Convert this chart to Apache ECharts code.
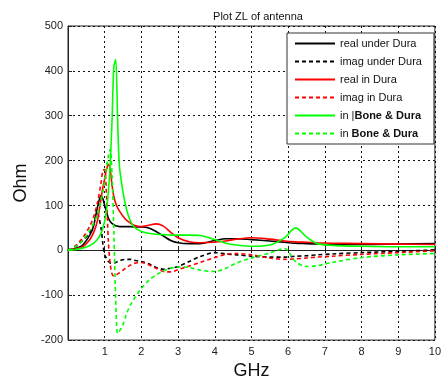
<!DOCTYPE html>
<html>
<head>
<meta charset="utf-8">
<script src="https://cdn.jsdelivr.net/npm/echarts@6/dist/echarts.min.js"></script>
<style>
  html, body { margin: 0; padding: 0; background: #fff; }
  #chart { width: 444px; height: 385px; }
</style>
</head>
<body>
<div id="chart"></div>
<script>
// frequency grid (GHz), shared by every curve
const freq = [0, 0.2, 0.4, 0.6, 0.7, 0.8, 0.9, 0.95, 1.0, 1.05, 1.1, 1.15, 1.2, 1.25, 1.3, 1.35, 1.4, 1.5, 1.6, 1.7,
  1.8, 2.0, 2.2, 2.4, 2.6, 2.8, 3.0, 3.3, 3.6, 4.0, 4.3, 4.6, 5.0, 5.5, 5.9, 6.2, 6.5, 6.8, 7.2, 8, 9, 10]

const realUnderDura = [0, 4, 12, 35, 55, 95, 122, 115, 100, 85, 72, 64, 60, 57, 55, 54, 53, 53, 53, 53,
  52, 52, 50, 42, 32, 22, 17, 15, 15, 22, 26, 26, 24, 21, 18, 16, 15, 14, 13, 13, 14, 15]
const imagUnderDura = [0, 8, 22, 40, 60, 82, 50, 15, -10, -18, -25, -28, -29, -28, -27, -25, -23, -21, -20, -20,
  -22, -25, -30, -38, -42, -40, -36, -25, -14, -5, -8, -10, -13, -15, -15, -13, -12, -10, -8, -5, -2, 1]
const realInDura = [0, 3, 8, 25, 40, 65, 115, 140, 160, 180, 192, 180, 145, 120, 105, 95, 88, 76, 67, 61,
  56, 53, 56, 59, 54, 40, 28, 19, 17, 18, 21, 25, 28, 25, 21, 19, 18, 17, 16, 15, 14, 13]
const imagInDura = [0, 10, 28, 55, 75, 105, 150, 178, 180, 120, 20, -30, -52, -57, -55, -53, -50, -44, -38, -33,
  -29, -27, -32, -40, -47, -48, -43, -35, -27, -16, -9, -7, -10, -17, -20, -19, -17, -15, -13, -9, -5, -1]
const realInBone = [0, 2, 5, 11, 16, 24, 38, 50, 65, 90, 130, 190, 290, 410, 425, 300, 190, 130, 90, 66,
  52, 42, 38, 36, 35, 34, 34, 34, 33, 24, 16, 12, 9, 12, 28, 50, 30, 15, 11, 9, 8, 8]
const imagInBone = [0, 8, 22, 45, 60, 80, 110, 130, 155, 185, 210, 225, 170, 40, -110, -185, -180, -165, -140, -122,
  -108, -85, -67, -55, -46, -40, -37, -38, -44, -47, -40, -28, -17, -6, 4, -25, -36, -34, -27, -16, -10, -7]

const seriesNames = ['real under Dura', 'imag under Dura', 'real in Dura', 'imag in Dura', 'in |Bone & Dura', 'in Bone & Dura']
const legendLabels = ['real under Dura', 'imag under Dura', 'real in Dura', 'imag in Dura', 'in |{b|Bone & Dura}', 'in {b|Bone & Dura}']
const seriesValues = [realUnderDura, imagUnderDura, realInDura, imagInDura, realInBone, imagInBone]
const seriesColors = ['#000000', '#000000', '#ff0000', '#ff0000', '#00ff00', '#00ff00']
const seriesDashed = [false, true, false, true, false, true]

const xTicks = [0, 10, 1]   // min, max, interval
const yTicks = [-200, 500, 100]

const font = 'Liberation Sans, Arial, sans-serif'

const chart = echarts.init(document.getElementById('chart'), undefined, { renderer: 'canvas' })

chart.setOption({
  backgroundColor: '#fff',
  animation: false,
  textStyle: { fontFamily: font },
  title: {
    text: 'Plot ZL of antenna',
    left: 253,
    textAlign: 'center',
    top: 6,
    textStyle: { fontSize: 11, fontWeight: 'normal', color: '#111', fontFamily: font },
  },
  grid: {
    left: 68,
    right: 6,
    top: 26,
    bottom: 41,
    show: true,
    borderColor: '#222',
    borderWidth: 1,
  },
  legend: {
    orient: 'vertical',
    left: 287,
    top: 33,
    backgroundColor: '#fff',
    borderColor: '#333',
    borderWidth: 1,
    borderRadius: 0,
    padding: [5, 12, 5, 7],
    itemWidth: 40,
    itemHeight: 10,
    itemGap: 7,
    itemStyle: { opacity: 0 },
    data: seriesNames,
    formatter: (name) => legendLabels[seriesNames.indexOf(name)],
    textStyle: {
      fontSize: 11,
      color: '#111',
      fontFamily: font,
      rich: { b: { fontWeight: 'bold', fontSize: 11, fontFamily: font, color: '#111' } },
    },
  },
  xAxis: {
    type: 'value',
    min: xTicks[0],
    max: xTicks[1],
    interval: xTicks[2],
    name: 'GHz',
    nameLocation: 'middle',
    nameGap: 19,
    nameTextStyle: { fontSize: 18, color: '#111', fontFamily: font },
    axisLine: { lineStyle: { color: '#222', width: 1 } },
    axisTick: { inside: true, length: 4, lineStyle: { color: '#222' } },
    axisLabel: {
      color: '#222',
      fontSize: 11,
      margin: 6,
      formatter: (v) => (v === 0 ? '' : String(v)),
    },
    splitLine: { show: true, lineStyle: { color: '#111', type: [2, 3], width: 1 } },
  },
  yAxis: {
    type: 'value',
    min: yTicks[0],
    max: yTicks[1],
    interval: yTicks[2],
    name: 'Ohm',
    nameLocation: 'middle',
    nameGap: 34,
    nameTextStyle: { fontSize: 18, color: '#111', fontFamily: font },
    axisLine: { show: true, lineStyle: { color: '#222', width: 1 } },
    axisTick: { show: true, inside: true, length: 4, lineStyle: { color: '#222' } },
    axisLabel: { color: '#222', fontSize: 11, margin: 5 },
    splitLine: { show: true, lineStyle: { color: '#111', type: [2, 3], width: 1 } },
  },
  series: seriesNames.map((name, i) => ({
    name,
    type: 'line',
    data: freq.map((f, j) => [f, seriesValues[i][j]]),
    showSymbol: false,
    symbol: 'none',
    smooth: 0.3,
    color: seriesColors[i],
    lineStyle: { color: seriesColors[i], width: 1.6, type: seriesDashed[i] ? [4, 3] : 'solid' },
    z: 3 + i,
  })),
})
</script>
</body>
</html>
